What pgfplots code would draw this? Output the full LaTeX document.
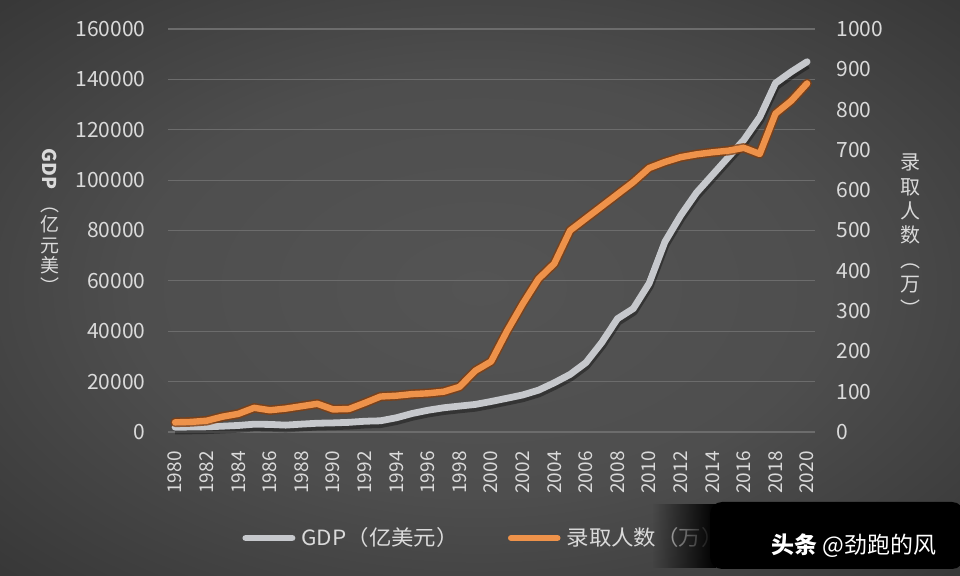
\documentclass[border=0pt]{standalone}
\usepackage{fontspec}
\setmainfont{Noto Sans CJK SC}
\newfontfamily\legfont[FakeStretch=1.07]{Noto Sans CJK SC}
\usepackage{pgfplots}
\pgfplotsset{compat=1.18}
\usepackage{pgfplotstable}
\usetikzlibrary{fadings}
\definecolor{bgin}{RGB}{84,84,84}
\definecolor{bgout}{RGB}{34,34,34}
\definecolor{gridc}{RGB}{108,108,108}
\definecolor{txt}{RGB}{218,218,218}
\definecolor{gdpc}{RGB}{198,200,204}
\definecolor{orc}{RGB}{238,146,74}
\definecolor{ordk}{RGB}{130,62,16}

\pgfdeclareradialshading{bgshade}{\pgfpoint{0bp}{0bp}}{color(0bp)=(bgin); color(18bp)=(bgin!88!bgout); color(52bp)=(bgout); color(75bp)=(bgout)}

\pgfplotstableread{
year gdp enr
1980 1911 24
1981 1958 25
1982 2050 28
1983 2306 38
1984 2599 45
1985 3094 60
1986 3008 54
1987 2730 58
1988 3122 64
1989 3478 70
1990 3609 56
1991 3834 57
1992 4269 72
1993 4447 88
1994 5643 90
1995 7340 94
1996 8637 96
1997 9616 100
1998 10290 112
1999 10940 152
2000 12113 175
2001 13393 250
2002 14705 318
2003 16603 380
2004 19553 418
2005 22860 500
2006 27521 530
2007 35500 560
2008 45000 590
2009 49000 620
2010 59000 655
2011 75500 670
2012 86000 682
2013 95000 689
2014 102000 694
2015 109000 698
2016 116000 705
2017 125000 690
2018 138500 790
2019 143000 822
2020 147000 865
}\data

\begin{document}
\begin{tikzpicture}
\shade[shading=bgshade] (0,0) rectangle (480bp,288bp);
\path[use as bounding box] (0,0) rectangle (480bp,288bp);

\begin{axis}[
  at={(84bp,72bp)}, anchor=south west, scale only axis,
  width=323.5bp, height=201.5bp,
  xmin=1979.55, xmax=2020.5, ymin=0, ymax=160000,
  ytick={0,20000,...,160000},
  xtick={1980,1982,...,2020},
  ymajorgrids, grid style={gridc, line width=0.6bp},
  axis line style={draw=none},
  major tick length=0pt,
  scaled y ticks=false,
  /pgf/number format/assume math mode=true,
  /pgf/number format/1000 sep={},
  /pgf/number format/fixed,
  yticklabel style={font=\fontsize{10.5bp}{12bp}\selectfont, text=txt, anchor=east, inner sep=0pt, xshift=-11bp},
  xticklabel style={font=\fontsize{9.5bp}{11bp}\selectfont, text=txt, rotate=90, anchor=east, inner sep=0pt},
  xticklabel shift=9.5bp,
  clip=false,
]
\addplot[black, opacity=0.35, line width=4.6bp, yshift=-1.3bp, line join=round, forget plot] table[x=year,y=gdp]{\data};
\addplot[gdpc, line width=3.4bp, line join=round, line cap=round] table[x=year,y=gdp]{\data};
\end{axis}

\begin{axis}[
  at={(84bp,72bp)}, anchor=south west, scale only axis,
  width=323.5bp, height=201.5bp,
  xmin=1979.55, xmax=2020.5, ymin=0, ymax=1000,
  ytick={0,100,...,1000},
  hide x axis,
  axis y line*=right,
  axis line style={draw=none},
  major tick length=0pt,
  /pgf/number format/assume math mode=true,
  /pgf/number format/1000 sep={},
  yticklabel style={font=\fontsize{10.5bp}{12bp}\selectfont, text=txt, anchor=west, inner sep=0pt, xshift=10.5bp},
  clip=false,
  legend columns=2,
  legend style={at={(0.1144,-0.263)}, anchor=west, draw=none, fill=none, inner sep=0pt,
    nodes={inner sep=0pt},
    font=\legfont\fontsize{10.5bp}{12bp}\selectfont, text=txt,
    /tikz/every even column/.append style={column sep=24.5bp},
    /tikz/every odd column/.append style={column sep=3bp}},
  legend image code/.code={\draw[#1, line cap=round] (1.7bp,0bp) -- (24.8bp,0bp);},
]
\addlegendimage{gdpc, line width=3.4bp}
\addlegendentry{GDP（亿美元）}
\addplot[ordk, opacity=0.8, line width=4.8bp, line join=round, line cap=round, forget plot] table[x=year,y=enr]{\data};
\addplot[orc, line width=3.2bp, line join=round, line cap=round] table[x=year,y=enr]{\data};
\addlegendentry{录取人数（万）}
\end{axis}

% axis titles
\node[text=txt, font=\fontsize{9.5bp}{11bp}\selectfont\bfseries, inner sep=0pt, rotate=-90] at (25bp,203.5bp) {GDP};
\node[text=txt, font=\fontsize{9.5bp}{10.25bp}\selectfont, align=center, inner sep=0pt] at (25bp,162.75bp)
  {︵\\亿\\元\\美\\︶};
\node[text=txt, font=\fontsize{10bp}{12.2bp}\selectfont, align=center, inner sep=0pt] at (455bp,170.5bp)
  {录\\取\\人\\数\\︵\\万\\︶};

% watermark
\fill[black, path fading=west] (326bp,4bp) rectangle (358bp,36bp);
\fill[black, rounded corners=6bp] (355bp,3.5bp) rectangle (482bp,37bp);
\node[text=white, font=\fontsize{11.5bp}{13bp}\selectfont, inner sep=0pt] at (427bp,15bp) {\bfseries 头条\mdseries\ @劲跑的风};
\end{tikzpicture}
\end{document}
